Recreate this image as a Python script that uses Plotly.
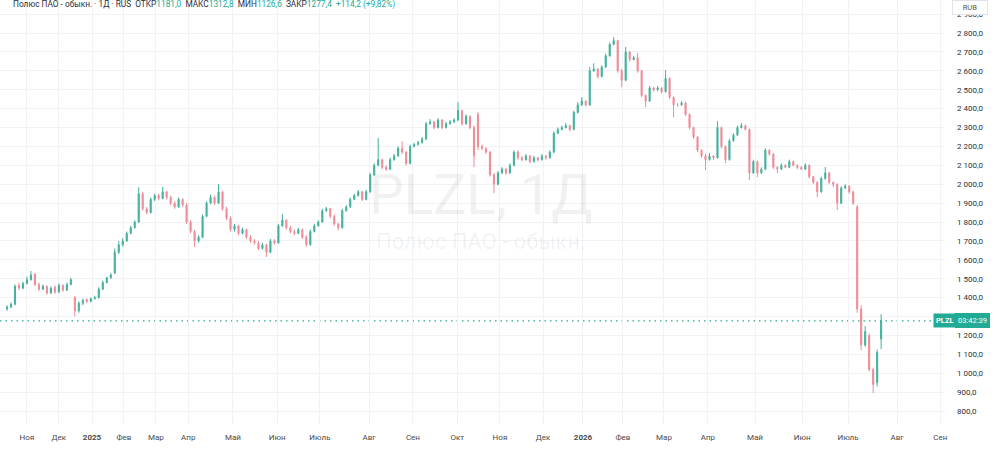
import plotly.graph_objects as go

# ---- data ----
opens = [1340, 1350, 1365, 1465, 1450, 1475, 1495, 1525, 1470, 1445, 1460, 1425, 1455, 1430, 1465, 1440, 1470, 1400, 1330, 1370,
         1390, 1380, 1395, 1400, 1445, 1480, 1505, 1530, 1640, 1680, 1700, 1740, 1770, 1800, 1950, 1870, 1850, 1920, 1940, 1925,
         1960, 1930, 1900, 1880, 1920, 1890, 1800, 1750, 1700, 1720, 1830, 1900, 1930, 1900, 1960, 1870, 1820, 1760, 1780, 1740,
         1760, 1720, 1700, 1690, 1660, 1680, 1640, 1700, 1690, 1780, 1810, 1770, 1750, 1740, 1760, 1720, 1680, 1750, 1780, 1800,
         1860, 1870, 1830, 1790, 1770, 1860, 1880, 1920, 1940, 1960, 1920, 1960, 2050, 2100, 2130, 2090, 2080, 2130, 2150, 2190,
         2170, 2110, 2200, 2210, 2220, 2240, 2320, 2330, 2300, 2340, 2300, 2320, 2330, 2340, 2390, 2320, 2360, 2300, 2370, 2200,
         2190, 2170, 2050, 2000, 2060, 2080, 2060, 2100, 2170, 2140, 2130, 2150, 2120, 2140, 2130, 2150, 2140, 2170, 2270, 2290,
         2300, 2310, 2290, 2380, 2420, 2440, 2420, 2600, 2610, 2570, 2620, 2680, 2740, 2760, 2600, 2550, 2700, 2660, 2670, 2600,
         2470, 2440, 2510, 2500, 2510, 2490, 2560, 2460, 2420, 2420, 2430, 2370, 2300, 2250, 2180, 2150, 2130, 2150, 2140, 2300,
         2200, 2130, 2230, 2260, 2300, 2310, 2290, 2060, 2120, 2060, 2080, 2180, 2160, 2090, 2080, 2100, 2090, 2120, 2100, 2090,
         2080, 2100, 2040, 2010, 1960, 2030, 2060, 2010, 2000, 1900, 1980, 1990, 1960, 1880, 1340, 1150, 1200, 1020, 950, 1181.0]
highs = [1360, 1375, 1470, 1480, 1485, 1510, 1541, 1530, 1480, 1470, 1465, 1460, 1465, 1475, 1470, 1480, 1505, 1410, 1380, 1395,
         1395, 1400, 1410, 1455, 1490, 1510, 1530, 1660, 1700, 1715, 1750, 1780, 1810, 1985, 1960, 1880, 1930, 1950, 1950, 1985,
         1965, 1940, 1910, 1930, 1925, 1900, 1810, 1760, 1730, 1840, 1910, 1945, 1940, 2001, 1965, 1880, 1830, 1790, 1785, 1770,
         1765, 1730, 1710, 1700, 1690, 1685, 1710, 1710, 1790, 1842, 1815, 1780, 1760, 1770, 1765, 1730, 1760, 1790, 1810, 1870,
         1880, 1875, 1840, 1795, 1870, 1890, 1930, 1950, 1970, 1965, 1970, 2060, 2110, 2244, 2135, 2100, 2140, 2160, 2200, 2228,
         2175, 2210, 2220, 2230, 2250, 2330, 2345, 2335, 2350, 2345, 2330, 2340, 2350, 2435, 2395, 2370, 2365, 2310, 2382, 2210,
         2195, 2175, 2060, 2070, 2090, 2085, 2110, 2180, 2180, 2150, 2160, 2155, 2150, 2145, 2160, 2155, 2180, 2280, 2300, 2310,
         2324, 2315, 2390, 2435, 2461, 2445, 2620, 2640, 2615, 2630, 2690, 2750, 2779, 2765, 2610, 2726, 2705, 2680, 2694, 2605,
         2475, 2520, 2515, 2520, 2515, 2604, 2565, 2465, 2430, 2440, 2435, 2375, 2305, 2255, 2185, 2160, 2165, 2155, 2334, 2305,
         2205, 2240, 2270, 2310, 2324, 2315, 2295, 2130, 2125, 2090, 2190, 2185, 2165, 2095, 2110, 2105, 2130, 2125, 2105, 2095,
         2110, 2105, 2045, 2015, 2040, 2091, 2065, 2015, 2005, 1990, 2000, 1995, 1965, 1890, 1360, 1250, 1210, 1030, 1125, 1312.8]
lows = [1330, 1345, 1360, 1440, 1445, 1470, 1490, 1460, 1435, 1440, 1415, 1420, 1420, 1425, 1430, 1435, 1465, 1300, 1320, 1360,
        1370, 1375, 1390, 1395, 1440, 1475, 1500, 1525, 1630, 1670, 1695, 1735, 1765, 1795, 1860, 1840, 1845, 1910, 1915, 1920,
        1920, 1890, 1870, 1875, 1880, 1790, 1740, 1667, 1690, 1715, 1825, 1895, 1890, 1895, 1860, 1810, 1750, 1750, 1730, 1735,
        1710, 1690, 1680, 1650, 1655, 1615, 1635, 1680, 1685, 1775, 1760, 1740, 1730, 1735, 1710, 1668, 1675, 1745, 1775, 1795,
        1855, 1820, 1780, 1757, 1765, 1855, 1875, 1915, 1935, 1910, 1915, 1955, 2045, 2095, 2080, 2070, 2075, 2125, 2145, 2160,
        2100, 2105, 2195, 2205, 2215, 2235, 2315, 2290, 2295, 2290, 2295, 2315, 2325, 2335, 2310, 2315, 2290, 2091, 2181, 2180,
        2160, 2040, 1953, 1995, 2055, 2050, 2055, 2095, 2130, 2120, 2125, 2110, 2115, 2120, 2125, 2130, 2135, 2165, 2265, 2285,
        2295, 2280, 2285, 2375, 2415, 2410, 2415, 2595, 2560, 2565, 2615, 2675, 2735, 2590, 2514, 2545, 2650, 2655, 2590, 2460,
        2408, 2435, 2490, 2495, 2480, 2485, 2450, 2355, 2410, 2415, 2360, 2290, 2240, 2170, 2140, 2075, 2125, 2128, 2135, 2190,
        2112, 2125, 2225, 2255, 2295, 2285, 2022, 2055, 2038, 2055, 2075, 2150, 2080, 2059, 2075, 2085, 2085, 2095, 2080, 2075,
        2075, 2030, 2000, 1932, 1955, 2025, 2000, 1985, 1863, 1895, 1975, 1950, 1890, 1320, 1122, 1140, 1010, 895, 930, 1126.6]
closes = [1350, 1365, 1460, 1450, 1475, 1495, 1520, 1470, 1445, 1460, 1425, 1450, 1430, 1465, 1440, 1470, 1495, 1330, 1370, 1385,
          1380, 1395, 1400, 1445, 1480, 1505, 1520, 1640, 1680, 1700, 1740, 1770, 1800, 1950, 1870, 1850, 1920, 1940, 1925, 1960,
          1930, 1900, 1880, 1920, 1890, 1800, 1750, 1700, 1720, 1830, 1900, 1930, 1900, 1960, 1870, 1820, 1760, 1780, 1740, 1760,
          1720, 1700, 1690, 1660, 1680, 1640, 1700, 1690, 1780, 1810, 1770, 1750, 1740, 1760, 1720, 1680, 1750, 1780, 1800, 1860,
          1870, 1830, 1790, 1770, 1860, 1880, 1920, 1940, 1960, 1920, 1960, 2050, 2100, 2130, 2090, 2080, 2130, 2150, 2190, 2170,
          2110, 2200, 2210, 2220, 2240, 2320, 2330, 2300, 2340, 2300, 2320, 2330, 2340, 2390, 2320, 2360, 2300, 2150, 2200, 2190,
          2170, 2050, 2000, 2060, 2080, 2060, 2100, 2170, 2140, 2130, 2150, 2120, 2140, 2130, 2150, 2140, 2170, 2270, 2290, 2300,
          2310, 2290, 2380, 2420, 2440, 2420, 2600, 2610, 2570, 2620, 2680, 2740, 2760, 2600, 2550, 2700, 2660, 2670, 2600, 2470,
          2440, 2510, 2500, 2510, 2490, 2560, 2460, 2420, 2420, 2430, 2370, 2300, 2250, 2180, 2150, 2130, 2150, 2140, 2300, 2200,
          2130, 2230, 2260, 2300, 2310, 2290, 2060, 2120, 2060, 2080, 2180, 2160, 2090, 2080, 2100, 2090, 2120, 2100, 2090, 2080,
          2100, 2040, 2010, 1960, 2030, 2060, 2010, 2000, 1900, 1980, 1990, 1960, 1900, 1340, 1150, 1220, 1020, 940, 1110, 1277.4]
bar_index = list(range(len(closes)))

month_positions = [5.0, 13.0, 21.3, 29.3, 37.3, 45.4, 56.6, 67.7, 78.4, 90.7, 101.7, 112.8,
                   123.5, 134.3, 144.3, 154.3, 164.6, 175.6, 187.4, 199.2, 210.7, 223.0, 233.8]
month_labels = ["Ноя", "Дек", "<b>2025</b>", "Фев", "Мар", "Апр", "Май", "Июн", "Июль", "Авг", "Сен", "Окт",
                "Ноя", "Дек", "<b>2026</b>", "Фев", "Мар", "Апр", "Май", "Июн", "Июль", "Авг", "Сен"]
price_ticks = [800, 900, 1000, 1100, 1200, 1300, 1400, 1500, 1600, 1700, 1800, 1900, 2000,
               2100, 2200, 2300, 2400, 2500, 2600, 2700, 2800, 2900]
price_tick_labels = ["800,0", "900,0", "1 000,0", "1 100,0", "1 200,0", "1 300,0", "1 400,0", "1 500,0",
                     "1 600,0", "1 700,0", "1 800,0", "1 900,0", "2 000,0", "2 100,0", "2 200,0", "2 300,0",
                     "2 400,0", "2 500,0", "2 600,0", "2 700,0", "2 800,0", "2 900,0"]
change_abs = "+114,2"
change_pct = "+9,82%"
ticker = "PLZL"
title_name = "Полюс ПАО - обыкн."
countdown = "03:42:39"

UP = "#45b19c"
DOWN = "#ee8d97"
TEAL = "#22ab94"
FONT = "Roboto"

fig = go.Figure(go.Candlestick(
    x=bar_index, open=opens, high=highs, low=lows, close=closes,
    increasing=dict(line=dict(color=UP, width=1), fillcolor=UP),
    decreasing=dict(line=dict(color=DOWN, width=1), fillcolor=DOWN),
    whiskerwidth=0, showlegend=False, hoverinfo="skip",
))

last_close = closes[-1]


def fmt(v):
    return f"{v:.1f}".replace(".", ",")


header = (f"{title_name} · 1Д · RUS  "
          f"ОТКР<span style='color:{TEAL}'>{fmt(opens[-1])}</span>  "
          f"МАКС<span style='color:{TEAL}'>{fmt(highs[-1])}</span>  "
          f"МИН<span style='color:{TEAL}'>{fmt(lows[-1])}</span>  "
          f"ЗАКР<span style='color:{TEAL}'>{fmt(closes[-1])}</span>  "
          f"<span style='color:{TEAL}'>{change_abs} ({change_pct})</span>")

fig.update_layout(
    width=1000, height=454,
    margin=dict(l=0, r=55, t=0, b=29),
    paper_bgcolor="white", plot_bgcolor="white",
    font=dict(family=FONT, size=8, color="#131722"),
    boxgap=0.6,
    xaxis=dict(
        range=[-1.75, 235.0], rangeslider=dict(visible=False),
        tickmode="array", tickvals=month_positions, ticktext=month_labels,
        showgrid=True, gridcolor="#f0f2f6", gridwidth=1, zeroline=False,
        showline=False, ticks="", tickfont=dict(size=8, color="#4a4a4a"),
        ticklabelstandoff=6, fixedrange=True,
    ),
    yaxis=dict(
        side="right", range=[726, 2975],
        tickmode="array", tickvals=price_ticks, ticktext=price_tick_labels,
        showgrid=True, gridcolor="#f0f2f6", gridwidth=1, zeroline=False,
        showline=False, ticks="", tickfont=dict(size=8, color="#2a2e39"),
        ticklabelstandoff=11,
    ),
    shapes=[
        dict(type="line", xref="paper", x0=0, x1=1, yref="y", y0=last_close, y1=last_close,
             line=dict(color=TEAL, width=1.3, dash="1.5px,4px"), layer="below"),
    ],
    annotations=[
        dict(text=header, xref="paper", yref="paper", x=0.012, y=1.0, xanchor="left", yanchor="top",
             yshift=3, showarrow=False, font=dict(size=8.3, color="#2a2e39")),
        dict(text=f"{ticker}, 1Д", xref="paper", yref="paper", x=0.509, y=0.54,
             showarrow=False, font=dict(size=55, color="rgba(19,23,34,0.06)")),
        dict(text=title_name, xref="paper", yref="paper", x=0.509, y=0.432,
             showarrow=False, font=dict(size=22, color="rgba(19,23,34,0.06)")),
        dict(text=f"<b>{ticker}</b>", xref="paper", yref="y", x=0.987, y=last_close, xanchor="left",
             showarrow=False, bgcolor=TEAL, font=dict(size=7.5, color="white"), borderpad=2),
        dict(text=countdown, xref="paper", yref="y", x=1.0105, y=last_close, xanchor="left",
             showarrow=False, bgcolor=TEAL, font=dict(size=7.5, color="white"), borderpad=2,
             bordercolor=TEAL),
        dict(text="RUB", xref="paper", yref="paper", x=1.0075, y=1.0, xanchor="left", yanchor="top",
             showarrow=False, bgcolor="white", bordercolor="#e0e3eb", borderwidth=1, borderpad=2,
             width=30, font=dict(size=7.5, color="#555")),
    ],
)

fig.write_html("out.html")
